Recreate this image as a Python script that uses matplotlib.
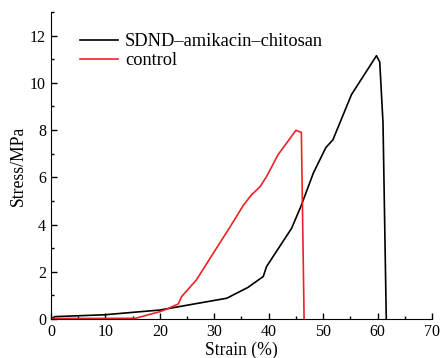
import matplotlib
matplotlib.use("Agg")
import matplotlib.pyplot as plt
from matplotlib.ticker import MultipleLocator

plt.rcParams['font.family'] = ['Liberation Serif', 'DejaVu Serif']
plt.rcParams['mathtext.fontset'] = 'stix'

sdnd_strain = [0, 0.7, 9.9, 20.0, 32.3, 36.2, 39.0, 39.6, 44.2, 45.9, 48.2, 50.5, 51.8, 55.2, 59.8, 60.4, 61.0, 61.6]
sdnd_stress = [0, 0.10, 0.18, 0.38, 0.88, 1.34, 1.80, 2.22, 3.84, 4.76, 6.18, 7.26, 7.59, 9.50, 11.15, 10.88, 8.3, 0]

ctrl_strain = [0, 0.5, 15.5, 20.0, 21.2, 23.4, 24.0, 26.7, 29.8, 32.9, 35.3, 36.8, 38.4, 39.6, 41.7, 45.0, 46.0, 46.5]
ctrl_stress = [0, 0.02, 0.03, 0.31, 0.41, 0.64, 0.95, 1.65, 2.78, 3.90, 4.80, 5.25, 5.60, 6.03, 6.95, 7.99, 7.90, 0]

fig = plt.figure(figsize=(4.43, 3.58), dpi=100)
ax = fig.add_axes([51/443, 1-319/358, (432-51)/443, (319-12)/358])

ax.plot(sdnd_strain, sdnd_stress, color='black', lw=1.2, label='SDND\u2013amikacin\u2013chitosan')
ax.plot(ctrl_strain, ctrl_stress, color='#ec2227', lw=1.2, label='control')

ax.set_xlim(0, 70)
ax.set_ylim(0, 13)
ax.xaxis.set_major_locator(MultipleLocator(10))
ax.xaxis.set_minor_locator(MultipleLocator(5))
ax.yaxis.set_major_locator(MultipleLocator(2))
ax.yaxis.set_minor_locator(MultipleLocator(1))
ax.tick_params(which='both', direction='in', labelsize=11.5, width=1, top=False, right=False)
ax.tick_params(which='major', length=4)
ax.tick_params(which='minor', length=2.5)
for s in ['top', 'right']:
    ax.spines[s].set_visible(False)
ax.set_xlabel('Strain (%)', fontsize=12.7, labelpad=1)
ax.set_ylabel('Stress/MPa', fontsize=12.7, labelpad=2)
ax.legend(loc='upper left', bbox_to_anchor=(0.076, 0.93), frameon=False, fontsize=13.2,
          handlelength=2.05, handletextpad=0.4, labelspacing=0.1, borderaxespad=0, borderpad=0)

fig.savefig('out.png', dpi=100)
